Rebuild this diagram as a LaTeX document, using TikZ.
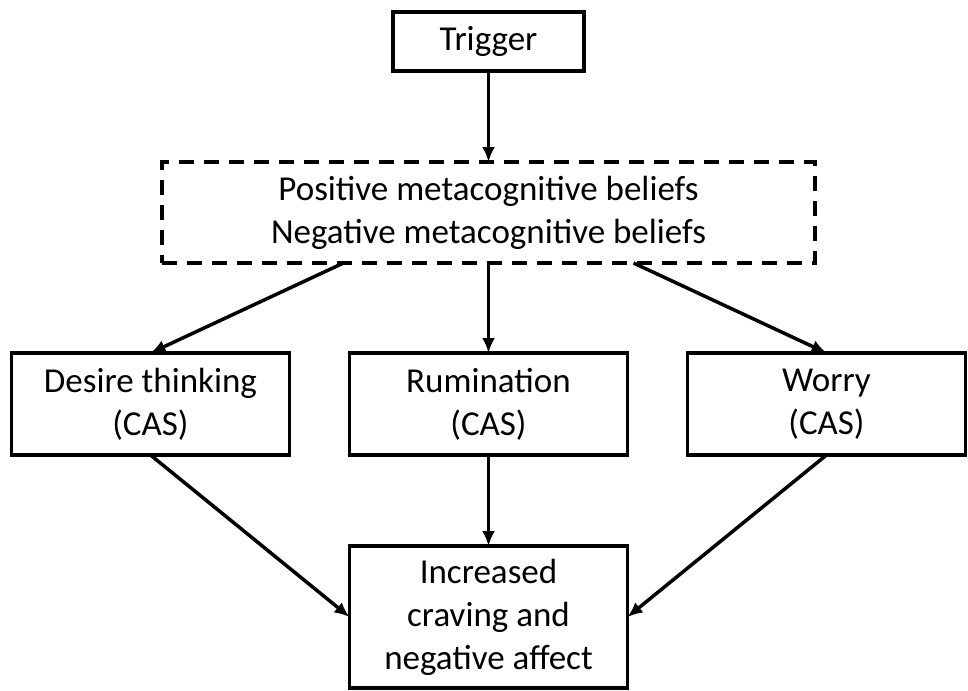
\documentclass[tikz,border=0pt]{standalone}
\usepackage{fontspec}
\setmainfont{Carlito}
\usetikzlibrary{arrows.meta,positioning}

\begin{document}
\begin{tikzpicture}[
    x=1pt, y=1pt,
    node distance = 91pt and 60pt,
    box/.style = {draw, line width=3.5pt, outer sep=0pt, inner sep=0pt,
                  minimum width=278pt, minimum height=102pt, align=center,
                  font=\fontsize{35}{43}\selectfont},
    arr/.style = {-{Latex[length=15pt, width=13pt]}, line width=3.5pt},
  ]
  \useasboundingbox (0,0) rectangle (968,-690);

  \node[box, minimum width=191pt, minimum height=59pt] (trig) at (488.5,-41.5) {Trigger};
  \node[box, dash pattern=on 15pt off 10pt, minimum width=653pt, minimum height=101pt,
        below=of trig] (beliefs) {Positive metacognitive beliefs\\Negative metacognitive beliefs};
  \node[box, below=90pt of beliefs] (rumin) {Rumination\\(CAS)};
  \node[box, left=of rumin] (desire) {Desire thinking\\(CAS)};
  \node[box, right=of rumin] (worry) {Worry\\(CAS)};
  \node[box, minimum height=142pt, below=of rumin] (incr) {Increased\\craving and\\negative affect};

  \draw[arr] (trig) -- (beliefs);
  \draw[arr] ([xshift=-145pt]beliefs.south) -- (desire.north);
  \draw[arr] (beliefs) -- (rumin);
  \draw[arr] ([xshift=145pt]beliefs.south) -- (worry.north);
  \draw[arr] (desire.south) -- (incr.west);
  \draw[arr] (rumin) -- (incr);
  \draw[arr] (worry.south) -- (incr.east);
\end{tikzpicture}
\end{document}
